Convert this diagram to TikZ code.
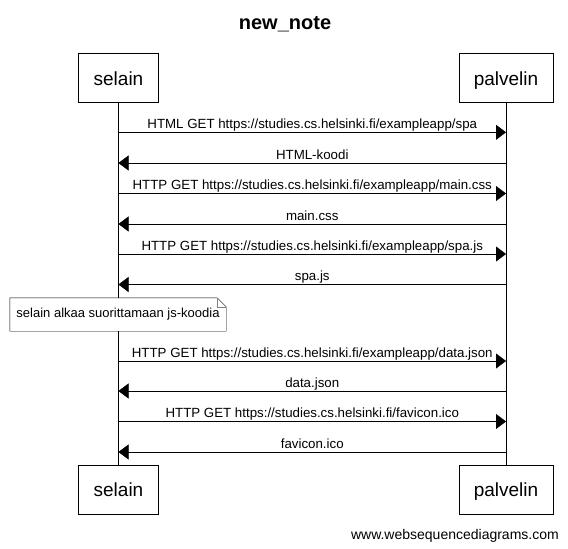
\documentclass[tikz,border=0pt]{standalone}
\usepackage{fontspec}
\setmainfont{Liberation Sans}
\usetikzlibrary{arrows.meta,positioning,backgrounds}

\begin{document}
\begin{tikzpicture}[x=1pt, y=-1pt,
  actor/.style={draw, fill=white, inner xsep=15pt, minimum height=49pt,
    text height=14.4pt, text depth=0pt, font=\fontsize{19}{22}\selectfont},
  msg/.style={-{Triangle[length=10pt,width=15pt]}},
  lbl/.style={anchor=base, yshift=4pt, inner sep=0pt,
    font=\fontsize{13.3}{15}\selectfont}]
  \useasboundingbox (0,0) rectangle (568,549);

  \node[anchor=base, font=\fontsize{20}{24}\selectfont\bfseries] (title)
  at (285,29) {new\_note};

  \node[actor] (selain top)    at (118.5,77.8)  {selain};
  \node[actor] (palvelin top)  at (506,77.8)    {palvelin};
  \node[actor] (selain bot)    at (118.5,489.5) {selain};
  \node[actor] (palvelin bot)  at (506,489.5)   {palvelin};

  % lifelines
  \begin{scope}[on background layer]
  \draw (selain top)   -- (selain bot);
  \draw (palvelin top) -- (palvelin bot);
  \end{scope}

  \foreach \n/\y in {1/132.3, 2/163, 3/193.5, 4/224, 5/254, 6/284.5,
                     7/361, 8/391, 9/421.5, 10/452}{
    \coordinate (s\n) at (selain top |- 0,\y);
    \coordinate (p\n) at (palvelin top |- 0,\y);
  }

  \draw[msg] (s1) -- node[lbl] {HTML GET https://studies.cs.helsinki.fi/exampleapp/spa} (p1);
  \draw[msg] (p2) -- node[lbl] {HTML-koodi} (s2);
  \draw[msg] (s3) -- node[lbl] {HTTP GET https://studies.cs.helsinki.fi/exampleapp/main.css} (p3);
  \draw[msg] (p4) -- node[lbl] {main.css} (s4);
  \draw[msg] (s5) -- node[lbl] {HTTP GET https://studies.cs.helsinki.fi/exampleapp/spa.js} (p5);
  \draw[msg] (p6) -- node[lbl] {spa.js} (s6);

  % note
  \node[fill=white, minimum width=216pt, minimum height=33pt, inner sep=0pt,
    font=\fontsize{13}{15}\selectfont] (note) at (118,314.5)
  {selain alkaa suorittamaan js-koodia};
  \draw (note.south west) -- (note.north west) -- ([xshift=-9pt]note.north east)
    -- ([yshift=-9pt]note.north east) -- (note.south east) -- cycle;
  \draw[gray] ([xshift=-9pt]note.north east) |- ([yshift=-9pt]note.north east);

  \draw[msg] (s7) -- node[lbl] {HTTP GET https://studies.cs.helsinki.fi/exampleapp/data.json} (p7);
  \draw[msg] (p8) -- node[lbl] {data.json} (s8);
  \draw[msg] (s9) -- node[lbl] {HTTP GET https://studies.cs.helsinki.fi/favicon.ico} (p9);
  \draw[msg] (p10) -- node[lbl] {favicon.ico} (s10);

  \node[anchor=base east, inner sep=0pt, font=\fontsize{14}{16}\selectfont] (footer)
  at (559,539) {www.websequencediagrams.com};
\end{tikzpicture}
\end{document}
